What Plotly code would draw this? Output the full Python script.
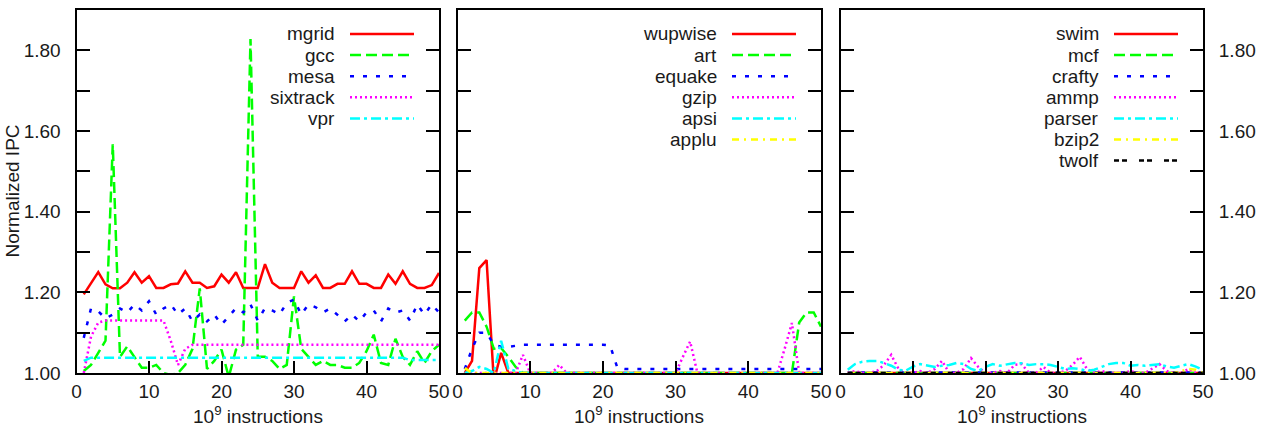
import plotly.graph_objects as go

# ---------------- data ----------------
x_instr = [1, 2, 3, 4, 5, 6, 7, 8, 9, 10, 11, 12, 13, 14, 15, 16, 17, 18, 19, 20,
           21, 22, 23, 24, 25, 26, 27, 28, 29, 30, 31, 32, 33, 34, 35, 36, 37, 38, 39, 40,
           41, 42, 43, 44, 45, 46, 47, 48, 49, 50]

# panel 1
mgrid = [1.195, 1.222, 1.25, 1.22, 1.21, 1.21, 1.224, 1.25, 1.224, 1.24,
         1.211, 1.211, 1.22, 1.222, 1.252, 1.224, 1.224, 1.211, 1.215, 1.244,
         1.224, 1.25, 1.211, 1.211, 1.211, 1.27, 1.224, 1.211, 1.211, 1.211,
         1.252, 1.224, 1.242, 1.211, 1.211, 1.221, 1.221, 1.252, 1.221, 1.221,
         1.211, 1.211, 1.244, 1.221, 1.252, 1.221, 1.211, 1.211, 1.218, 1.248]
gcc = [1.005, 1.02, 1.05, 1.08, 1.567, 1.04, 1.066, 1.04, 1.013, 1.013,
       1.02, 1.0, 0.995, 1.0, 1.02, 1.06, 1.21, 1.01, 1.03, 1.058,
       0.99, 1.058, 1.07, 1.828, 1.04, 1.04, 1.03, 1.01, 1.02, 1.19,
       1.06, 1.04, 1.02, 1.03, 1.02, 1.02, 1.013, 1.013, 1.025, 1.054,
       1.095, 1.025, 1.02, 1.085, 1.04, 1.02, 1.054, 1.025, 1.054, 1.07]
mesa = [1.087, 1.16, 1.153, 1.135, 1.145, 1.16, 1.15, 1.17, 1.155, 1.178,
        1.145, 1.16, 1.17, 1.145, 1.16, 1.128, 1.145, 1.128, 1.145, 1.12,
        1.14, 1.161, 1.15, 1.17, 1.13, 1.161, 1.155, 1.145, 1.174, 1.182,
        1.145, 1.17, 1.163, 1.15, 1.16, 1.145, 1.128, 1.145, 1.128, 1.15,
        1.155, 1.128, 1.16, 1.15, 1.155, 1.13, 1.17, 1.145, 1.17, 1.15]
sixtrack = [1.0, 1.09, 1.125, 1.13, 1.13, 1.13, 1.13, 1.13, 1.13, 1.13,
            1.13, 1.13, 1.08, 1.02, 1.06, 1.07, 1.07, 1.07, 1.07, 1.07,
            1.07, 1.07, 1.07, 1.07, 1.07, 1.07, 1.07, 1.07, 1.07, 1.07,
            1.07, 1.07, 1.07, 1.07, 1.07, 1.07, 1.07, 1.07, 1.07, 1.07,
            1.07, 1.07, 1.07, 1.07, 1.07, 1.07, 1.07, 1.07, 1.07, 1.07]
vpr = [1.03, 1.038, 1.038, 1.038, 1.038, 1.038, 1.038, 1.038, 1.038, 1.038,
       1.038, 1.038, 1.038, 1.038, 1.038, 1.038, 1.038, 1.038, 1.038, 1.038,
       1.038, 1.038, 1.038, 1.038, 1.038, 1.038, 1.038, 1.038, 1.038, 1.038,
       1.038, 1.038, 1.038, 1.038, 1.038, 1.038, 1.038, 1.038, 1.038, 1.038,
       1.038, 1.038, 1.038, 1.038, 1.038, 1.032, 1.032, 1.032, 1.032, 1.032]

# panel 2
wupwise = [1.0, 1.03, 1.26, 1.28, 0.98, 1.05, 1.0, 1.0, 1.0, 1.0,
           1.0, 1.0, 1.0, 1.0, 1.0, 1.0, 1.0, 1.0, 1.0, 1.0,
           1.0, 1.0, 1.0, 1.0, 1.0, 1.0, 1.0, 1.0, 1.0, 1.0,
           1.0, 1.0, 1.0, 1.0, 1.0, 1.0, 1.0, 1.0, 1.0, 1.0,
           1.0, 1.0, 1.0, 1.0, 1.0, 1.0, 1.0, 1.0, 1.0, 1.0]
art = [1.13, 1.15, 1.15, 1.115, 1.06, 1.062, 1.04, 1.015, 1.0, 1.0,
       1.0, 1.0, 1.0, 1.0, 1.0, 1.0, 1.0, 1.0, 1.0, 1.0,
       1.0, 1.0, 1.0, 1.0, 1.0, 1.0, 1.0, 1.0, 1.0, 1.0,
       1.0, 1.0, 1.0, 1.0, 1.0, 1.0, 1.0, 1.0, 1.0, 1.0,
       1.0, 1.0, 1.0, 1.0, 1.0, 1.0, 1.125, 1.15, 1.15, 1.115]
equake = [1.01, 1.06, 1.1, 1.1, 1.07, 1.065, 1.065, 1.068, 1.07, 1.07,
          1.07, 1.07, 1.07, 1.07, 1.07, 1.07, 1.07, 1.07, 1.07, 1.07,
          1.068, 1.012, 1.01, 1.01, 1.01, 1.01, 1.01, 1.01, 1.01, 1.01,
          1.01, 1.01, 1.01, 1.01, 1.01, 1.01, 1.01, 1.01, 1.01, 1.01,
          1.01, 1.01, 1.01, 1.01, 1.01, 1.01, 1.01, 1.01, 1.01, 1.01]
gzip = [1.0, 1.0, 1.0, 1.0, 1.0, 1.0, 1.0, 1.0, 1.045, 1.0,
        1.0, 1.0, 1.0, 1.02, 1.0, 1.0, 1.0, 1.0, 1.0, 1.0,
        1.0, 1.0, 1.0, 1.0, 1.0, 1.0, 1.0, 1.0, 1.0, 1.0,
        1.04, 1.078, 1.0, 1.0, 1.0, 1.0, 1.0, 1.0, 1.0, 1.0,
        1.0, 1.0, 1.0, 1.0, 1.06, 1.124, 1.0, 1.0, 1.0, 1.0]
apsi = [1.0, 1.005, 1.015, 1.01, 1.0, 1.08, 1.01, 1.005, 1.0, 1.0,
        1.0, 1.0, 1.0, 1.0, 1.0, 1.0, 1.0, 1.0, 1.0, 1.0,
        1.0, 1.0, 1.0, 1.0, 1.0, 1.0, 1.0, 1.0, 1.0, 1.0,
        1.0, 1.0, 1.0, 1.0, 1.0, 1.0, 1.0, 1.0, 1.0, 1.0,
        1.0, 1.0, 1.0, 1.0, 1.0, 1.0, 1.0, 1.0, 1.0, 1.0]
applu = [1.012, 1.0, 1.0, 1.0, 1.0, 1.0, 1.0, 1.0, 1.0, 1.0,
         1.0, 1.0, 1.0, 1.0, 1.0, 1.0, 1.0, 1.0, 1.0, 1.0,
         1.0, 1.0, 1.0, 1.0, 1.0, 1.0, 1.0, 1.0, 1.0, 1.0,
         1.0, 1.0, 1.0, 1.0, 1.0, 1.0, 1.0, 1.0, 1.0, 1.0,
         1.0, 1.0, 1.0, 1.0, 1.0, 1.0, 1.0, 1.0, 1.0, 1.0]

# panel 3
swim = [1.0, 1.0, 1.0, 1.0, 1.0, 1.0, 1.0, 1.0, 1.0, 1.0,
        1.0, 1.0, 1.0, 1.0, 1.0, 1.0, 1.0, 1.0, 1.0, 1.0,
        1.0, 1.0, 1.0, 1.0, 1.0, 1.0, 1.0, 1.0, 1.0, 1.0,
        1.0, 1.0, 1.0, 1.0, 1.0, 1.0, 1.0, 1.0, 1.0, 1.0,
        1.0, 1.0, 1.0, 1.0, 1.0, 1.0, 1.0, 1.0, 1.0, 1.0]
mcf = [1.0, 1.0, 1.0, 1.0, 1.0, 1.0, 1.0, 1.0, 1.0, 1.0,
       1.0, 1.0, 1.0, 1.0, 1.0, 1.0, 1.0, 1.0, 1.0, 1.0,
       1.0, 1.0, 1.0, 1.0, 1.0, 1.0, 1.0, 1.0, 1.0, 1.0,
       1.0, 1.0, 1.0, 1.0, 1.0, 1.0, 1.0, 1.0, 1.0, 1.0,
       1.0, 1.0, 1.0, 1.0, 1.0, 1.0, 1.0, 1.0, 1.0, 1.0]
crafty = [1.001, 1.001, 1.001, 1.001, 1.001, 1.001, 1.001, 1.001, 1.001, 1.001,
          1.001, 1.001, 1.001, 1.001, 1.001, 1.001, 1.001, 1.001, 1.001, 1.001,
          1.001, 1.001, 1.001, 1.001, 1.001, 1.001, 1.001, 1.001, 1.001, 1.001,
          1.001, 1.001, 1.001, 1.001, 1.001, 1.001, 1.001, 1.001, 1.001, 1.001,
          1.001, 1.001, 1.001, 1.001, 1.001, 1.001, 1.001, 1.001, 1.001, 1.001]
ammp = [1.0, 1.005, 1.0, 1.0, 1.005, 1.02, 1.045, 1.01, 1.0, 1.0,
        1.005, 1.0, 1.01, 1.03, 1.0, 1.0, 1.01, 1.037, 1.015, 1.0,
        1.0, 1.005, 1.0, 1.02, 1.022, 1.0, 1.0, 1.015, 1.0, 1.0,
        1.005, 1.02, 1.04, 1.01, 1.0, 1.005, 1.0, 1.0, 1.0, 1.005,
        1.0, 1.0, 1.01, 1.022, 1.005, 1.0, 1.0, 1.01, 1.0, 1.0]
parser = [1.008, 1.022, 1.028, 1.03, 1.03, 1.025, 1.018, 1.008, 1.006, 1.016,
          1.022, 1.018, 1.015, 1.018, 1.02, 1.025, 1.022, 1.01, 1.005, 1.015,
          1.022, 1.018, 1.022, 1.025, 1.024, 1.02, 1.022, 1.022, 1.02, 1.015,
          1.01, 1.012, 1.01, 1.005, 1.008, 1.015, 1.022, 1.025, 1.025, 1.018,
          1.02, 1.018, 1.02, 1.022, 1.016, 1.013, 1.018, 1.022, 1.016, 1.008]
bzip2 = [1.0, 1.0, 1.0, 1.0, 1.0, 1.0, 1.0, 1.0, 1.0, 1.0,
         1.0, 1.0, 1.0, 1.0, 1.0, 1.0, 1.0, 1.0, 1.0, 1.0,
         1.0, 1.0, 1.0, 1.0, 1.0, 1.0, 1.0, 1.0, 1.0, 1.0,
         1.0, 1.0, 1.0, 1.0, 1.0, 1.0, 1.0, 1.0, 1.0, 1.0,
         1.0, 1.0, 1.0, 1.0, 1.0, 1.0, 1.005, 1.01, 1.008, 1.0]
twolf = [1.0, 1.0, 1.0, 1.0, 1.0, 1.0, 1.0, 1.0, 1.0, 1.0,
         1.0, 1.0, 1.0, 1.0, 1.0, 1.0, 1.0, 1.0, 1.0, 1.0,
         1.0, 1.0, 1.0, 1.0, 1.0, 1.0, 1.0, 1.0, 1.0, 1.0,
         1.0, 1.0, 1.0, 1.0, 1.0, 1.0, 1.0, 1.0, 1.0, 1.0,
         1.0, 1.0, 1.0, 1.0, 1.0, 1.0, 1.0, 1.0, 1.0, 1.0]

panel1_names = ["mgrid", "gcc", "mesa", "sixtrack", "vpr"]
panel2_names = ["wupwise", "art", "equake", "gzip", "apsi", "applu"]
panel3_names = ["swim", "mcf", "crafty", "ammp", "parser", "bzip2", "twolf"]
panel1_values = [mgrid, gcc, mesa, sixtrack, vpr]
panel2_values = [wupwise, art, equake, gzip, apsi, applu]
panel3_values = [swim, mcf, crafty, ammp, parser, bzip2, twolf]

x_tick_vals = [0, 10, 20, 30, 40, 50]
x_tick_text = ["0", "10", "20", "30", "40", "50"]
y_tick_vals = [1.0, 1.2, 1.4, 1.6, 1.8]
y_tick_text = ["1.00", "1.20", "1.40", "1.60", "1.80"]
y_minor_step = 0.1
x_title = "10<sup>9</sup> instructions"
y_title = "Normalized IPC"

# ---------------- styles ----------------
W, H = 1263, 429
colors = ["#ff0000", "#00ff00", "#0000ff", "#ff00ff", "#00ffff", "#ffff00", "#000000"]
dashes = ["solid", "11px,5px", "4px,9px", "2px,3px", "10px,4px,3px,4px",
          "7px,5px,2px,5px", "5px,3px,5px,12px"]
LW = 2.5
FONT = "Liberation Sans, Arial, sans-serif"
TXT = "#1a1a1a"

panel_px = [(76.5, 439.0), (457.5, 821.0), (840.5, 1203.0)]
top_px, bot_px = 10.0, 373.0


def px_x(p):
    return p / W


def px_y(p):
    return (H - p) / H


fig = go.Figure()
panels = [(panel1_names, panel1_values), (panel2_names, panel2_values),
          (panel3_names, panel3_values)]

annotations = []
shapes = []
for k, (names, vals) in enumerate(panels):
    xa = "x" if k == 0 else "x%d" % (k + 1)
    ya = "y" if k == 0 else "y%d" % (k + 1)
    for i, (nm, v) in enumerate(zip(names, vals)):
        fig.add_trace(go.Scatter(
            x=x_instr, y=v, mode="lines", name=nm, showlegend=False,
            line=dict(color=colors[i], width=LW, dash=dashes[i]),
            xaxis=xa, yaxis=ya, hoverinfo="skip"))
    left, right = panel_px[k]
    xkey = "xaxis" if k == 0 else "xaxis%d" % (k + 1)
    ykey = "yaxis" if k == 0 else "yaxis%d" % (k + 1)
    fig.update_layout(**{
        xkey: dict(domain=[px_x(left), px_x(right)], range=[0, 50],
                   anchor=ya, tickmode="array", tickvals=x_tick_vals,
                   ticktext=x_tick_text, ticks="inside", ticklen=12,
                   tickwidth=1.5, tickcolor="black", showline=True,
                   linewidth=2, linecolor="black", mirror=True,
                   showgrid=False, zeroline=False, automargin=False,
                   tickfont=dict(family=FONT, size=19, color=TXT)),
        ykey: dict(domain=[px_y(bot_px), px_y(top_px)], range=[1.0, 1.9],
                   anchor=xa, tickmode="array", tickvals=y_tick_vals,
                   ticktext=y_tick_text, ticks="inside", ticklen=13,
                   tickwidth=2, tickcolor="black", showline=True,
                   linewidth=2, linecolor="black", mirror="allticks",
                   minor=dict(dtick=y_minor_step, tick0=1.0, ticks="inside",
                              ticklen=13, tickwidth=2, tickcolor="black",
                              showgrid=False),
                   showgrid=False, zeroline=False, automargin=False,
                   side="right" if k == 2 else "left",
                   showticklabels=(k != 1),
                   ticklabelposition="outside", ticklabelstandoff=10,
                   tickfont=dict(family=FONT, size=19, color=TXT)),
    })
    annotations.append(dict(text=x_title, xref="paper", yref="paper",
                            x=px_x((left + right) / 2), y=px_y(415),
                            xanchor="center", yanchor="middle", showarrow=False,
                            font=dict(family=FONT, size=19, color=TXT)))
    for i, nm in enumerate(names):
        yc = 34 + 21.1 * i
        annotations.append(dict(text=nm, xref="paper", yref="paper",
                                x=px_x(right - 102), y=px_y(yc),
                                xanchor="right", yanchor="middle",
                                showarrow=False,
                                font=dict(family=FONT, size=19, color=TXT)))
        shapes.append(dict(type="line", xref="paper", yref="paper",
                           x0=px_x(right - 89), x1=px_x(right - 25),
                           y0=px_y(yc), y1=px_y(yc),
                           line=dict(color=colors[i], width=LW, dash=dashes[i])))

annotations.append(dict(text=y_title, xref="paper", yref="paper",
                        x=px_x(12), y=px_y((top_px + bot_px) / 2),
                        xanchor="center", yanchor="middle", textangle=-90,
                        showarrow=False,
                        font=dict(family=FONT, size=19, color=TXT)))

fig.update_layout(width=W, height=H, autosize=False,
                  margin=dict(l=0, r=0, t=0, b=0, pad=0),
                  paper_bgcolor="white", plot_bgcolor="white",
                  font=dict(family=FONT, size=19, color=TXT),
                  annotations=annotations, shapes=shapes)

fig.write_html("out.html")
